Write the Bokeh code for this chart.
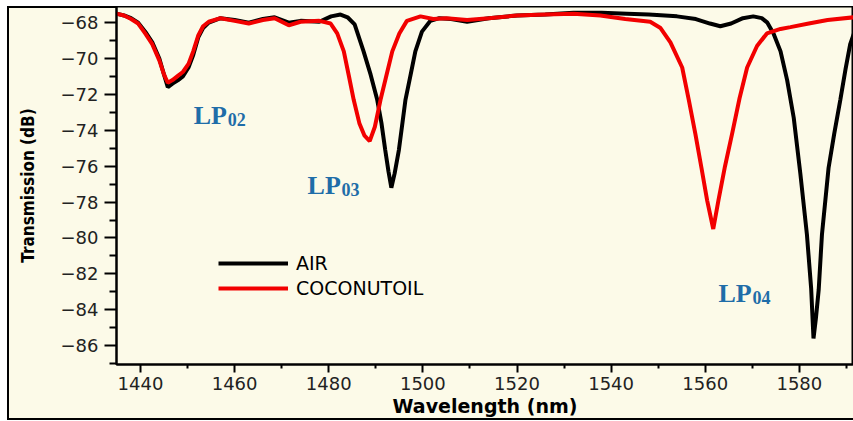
from bokeh.plotting import figure
from bokeh.models import ColumnDataSource, Range1d, FixedTicker, Label
from bokeh.embed import file_html
from bokeh.resources import INLINE

# ---- data ----
air_wl = [1434.9, 1436.5, 1438.0, 1439.5, 1441.0, 1442.5, 1444.0, 1445.0, 1445.8, 1446.8,
          1448.0, 1449.0, 1450.2, 1451.2, 1452.3, 1453.3, 1454.5, 1457.0, 1460.0, 1463.0,
          1466.0, 1468.5, 1471.5, 1474.0, 1478.0, 1480.5, 1482.5, 1484.0, 1485.5, 1487.4,
          1488.9, 1490.3, 1491.2, 1492.0, 1492.7, 1493.3, 1494.0, 1494.9, 1495.6, 1496.3,
          1497.4, 1498.4, 1499.8, 1501.6, 1503.5, 1506.0, 1509.4, 1514.0, 1520.0, 1526.0,
          1532.0, 1538.0, 1543.4, 1548.0, 1554.0, 1558.0, 1561.0, 1563.2, 1565.5, 1568.0,
          1570.2, 1572.0, 1573.2, 1574.5, 1576.0, 1577.4, 1578.8, 1580.2, 1581.6, 1582.5,
          1583.0, 1583.5, 1584.1, 1584.8, 1586.2, 1587.4, 1588.7, 1589.8, 1590.8, 1591.6]
air_db = [-67.50, -67.60, -67.75, -68.00, -68.50, -69.10, -70.00, -70.90, -71.60, -71.40,
          -71.20, -71.00, -70.50, -69.80, -68.80, -68.30, -68.00, -67.75, -67.85, -68.00,
          -67.80, -67.70, -68.00, -67.90, -67.95, -67.65, -67.55, -67.70, -68.10, -69.60,
          -70.90, -72.30, -73.60, -75.10, -76.30, -77.20, -76.40, -75.10, -73.70, -72.30,
          -70.90, -69.60, -68.50, -67.90, -67.75, -67.80, -67.95, -67.75, -67.60, -67.55,
          -67.45, -67.45, -67.50, -67.55, -67.65, -67.80, -68.05, -68.20, -68.05, -67.75,
          -67.65, -67.75, -68.00, -68.60, -69.60, -71.20, -73.30, -76.40, -79.80, -82.80,
          -85.60, -84.50, -82.90, -79.80, -76.10, -74.20, -72.30, -70.60, -69.20, -68.60]

oil_wl = [1434.9, 1436.5, 1438.0, 1439.5, 1441.0, 1442.5, 1444.0, 1445.0, 1445.8, 1446.8,
          1448.0, 1449.0, 1450.2, 1451.2, 1452.3, 1453.3, 1454.5, 1457.0, 1460.0, 1463.0,
          1466.0, 1468.5, 1471.5, 1474.0, 1478.0, 1480.4, 1481.8, 1483.2, 1484.3, 1485.3,
          1486.5, 1487.6, 1488.7, 1489.8, 1491.0, 1492.2, 1493.5, 1495.0, 1496.6, 1499.5,
          1502.2, 1505.0, 1509.4, 1514.0, 1520.0, 1526.0, 1532.0, 1537.7, 1543.0, 1548.3,
          1550.5, 1552.6, 1555.1, 1556.5, 1557.9, 1559.2, 1560.4, 1561.7, 1562.8, 1564.2,
          1565.7, 1567.3, 1568.9, 1571.0, 1573.1, 1576.0, 1578.1, 1582.0, 1586.0, 1591.6]
oil_db = [-67.50, -67.60, -67.80, -68.05, -68.60, -69.20, -70.10, -70.90, -71.35, -71.20,
          -70.95, -70.75, -70.30, -69.60, -68.70, -68.20, -67.95, -67.75, -67.90, -68.05,
          -67.85, -67.75, -68.15, -67.95, -67.90, -68.05, -68.60, -69.60, -71.00, -72.30,
          -73.60, -74.30, -74.60, -73.80, -72.30, -71.00, -69.60, -68.60, -67.90, -67.65,
          -67.80, -67.75, -67.85, -67.75, -67.60, -67.55, -67.50, -67.60, -67.80, -67.95,
          -68.30, -69.10, -70.50, -72.30, -74.20, -76.10, -77.90, -79.50, -77.90, -76.00,
          -74.20, -72.20, -70.50, -69.30, -68.60, -68.35, -68.25, -68.05, -67.85, -67.70]

x_ticks = [1440, 1460, 1480, 1500, 1520, 1540, 1560, 1580]
y_ticks = [-86, -84, -82, -80, -78, -76, -74, -72, -70, -68]

mode_names = ["LP", "LP", "LP"]
mode_subs = ["02", "03", "04"]
mode_wl = [1451.3, 1475.5, 1562.8]
mode_db = [-73.18, -77.09, -83.10]

# ---- styling ----
BG = "#FCFAE8"
TXT_BLUE = "#1F6DA8"

p = figure(width=846, height=414, output_backend="svg", toolbar_location=None,
           x_range=Range1d(1434.9, 1591.5), y_range=Range1d(-87.05, -67.1),
           min_border_left=109, min_border_right=0, min_border_top=0, min_border_bottom=56,
           background_fill_color=BG, border_fill_color=BG, border_fill_alpha=0)
p.styles = {"margin-left": "7px", "margin-top": "6px",
            "background-color": BG,
            "box-shadow": "inset 2px 2px 0 0 black, inset 0 -2px 0 0 black"}

p.xgrid.visible = False
p.ygrid.visible = False
p.outline_line_color = "black"
p.outline_line_width = 2
p.outline_line_alpha = 1

air_src = ColumnDataSource(dict(x=air_wl, y=air_db))
oil_src = ColumnDataSource(dict(x=oil_wl, y=oil_db))
p.line("x", "y", source=air_src, line_color="black", line_width=4, legend_label="AIR")
p.line("x", "y", source=oil_src, line_color="#F20000", line_width=4, legend_label="COCONUTOIL")

xminor = [t - 10 for t in x_ticks] + [x_ticks[-1] + 10]
yminor = [t - 1 for t in y_ticks] + [y_ticks[-1] + 1]
p.xaxis.ticker = FixedTicker(ticks=x_ticks, minor_ticks=xminor)
p.yaxis.ticker = FixedTicker(ticks=y_ticks, minor_ticks=yminor)

for ax in (p.xaxis, p.yaxis):
    ax.axis_line_width = 2
    ax.major_tick_line_width = 2
    ax.minor_tick_line_width = 2
    ax.major_tick_in = 0
    ax.minor_tick_in = 0
    ax.major_label_text_font = "DejaVu Sans"
    ax.major_label_text_font_size = "18px"
    ax.major_label_text_color = "#222222"

p.xaxis.major_tick_out = 8
p.xaxis.minor_tick_out = 4
p.xaxis.major_label_standoff = 4
p.xaxis.axis_label = "Wavelength (nm)"
p.xaxis.axis_label_text_font = "DejaVu Sans"
p.xaxis.axis_label_text_font_style = "bold"
p.xaxis.axis_label_text_font_size = "19px"
p.xaxis.axis_label_standoff = 2
p.xaxis.axis_label_text_color = "black"

p.yaxis.major_tick_out = 12
p.yaxis.minor_tick_out = 7
p.yaxis.major_label_standoff = 6
p.yaxis.axis_label = "Transmission (dB)"
p.yaxis.axis_label_text_font = "Liberation Sans Narrow, DejaVu Sans Condensed, sans-serif"
p.yaxis.axis_label_text_font_style = "bold"
p.yaxis.axis_label_text_font_size = "17px"
p.yaxis.axis_label_standoff = 20
p.yaxis.axis_label_text_color = "black"

lg = p.legend[0]
lg.location = (102, 65)
lg.border_line_color = None
lg.background_fill_alpha = 0
lg.glyph_width = 70
lg.glyph_height = 20
lg.label_height = 20
lg.spacing = 3
lg.padding = 0
lg.margin = 0
lg.label_standoff = 8
lg.label_text_font = "DejaVu Sans"
lg.label_text_font_size = "19px"
lg.label_text_color = "black"

for name, sub, wl, db in zip(mode_names, mode_subs, mode_wl, mode_db):
    p.add_layout(Label(x=wl, y=db, text=name, text_color=TXT_BLUE,
                       text_font="Liberation Serif", text_font_style="bold",
                       text_font_size="26px", text_baseline="alphabetic"))
    p.add_layout(Label(x=wl, y=db, x_offset=34, y_offset=-4, text=sub, text_color=TXT_BLUE,
                       text_font="Liberation Serif", text_font_style="bold",
                       text_font_size="18px", text_baseline="alphabetic"))

open("out.html", "w").write(file_html(p, INLINE))
